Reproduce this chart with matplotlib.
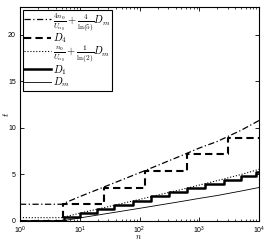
import numpy as np
import matplotlib
matplotlib.use("Agg")
import matplotlib.pyplot as plt

plt.rcParams["font.family"] = "Liberation Sans"
plt.rcParams["mathtext.fontset"] = "cm"

# smooth curves
n_grid = [1, 5, 10, 20, 50, 100, 200, 500, 1000, 2000, 5000, 10000]
dm = [0, 0, 0.33, 0.64, 1.05, 1.36, 1.68, 2.1, 2.43, 2.74, 3.22, 3.6]
bound_1 = [0.36, 0.36, 0.84, 1.28, 1.87, 2.32, 2.78, 3.38, 3.86, 4.34, 5.0, 5.55]
bound_4 = [1.8, 1.8, 2.62, 3.39, 4.41, 5.18, 5.97, 7.02, 7.84, 8.55, 9.75, 10.8]

# step curves
d1_n = [1, 5.5, 10, 19.5, 38, 78, 155, 310, 620, 1240, 2550, 5060, 8800, 10000]
d1_val = [0, 0.44, 0.88, 1.32, 1.76, 2.2, 2.64, 3.08, 3.52, 3.96, 4.4, 4.84, 5.28, 5.28]
d4_n = [1, 5.2, 25, 122, 612, 3050, 10000]
d4_val = [0, 1.8, 3.6, 5.37, 7.15, 8.92, 8.92]

fig = plt.figure(figsize=(2.66, 2.41), dpi=100)
ax = fig.add_axes([0.075, 0.083, 0.899, 0.888])

ax.plot(n_grid, bound_4, color="k", lw=0.9, dashes=(5, 2, 1, 2),
        label=r"$\frac{4n_0}{U_{n_0}}+\frac{4}{\ln(5)}D_m$")
ax.step(d4_n, d4_val, where="post", color="k", lw=1.5, dashes=(3.5, 2),
        label=r"$D_4$")
ax.plot(n_grid, bound_1, color="k", lw=0.8, linestyle=":",
        label=r"$\frac{n_0}{U_{n_0}}+\frac{1}{\ln(2)}D_m$")
ax.step(d1_n, d1_val, where="post", color="k", lw=1.8, label=r"$D_1$")
ax.plot(n_grid, dm, color="k", lw=0.6, label=r"$D_m$")

ax.set_xscale("log")
ax.set_xlim(1, 1e4)
ax.set_ylim(0, 23)
ax.set_yticks([0, 5, 10, 15, 20])
ax.tick_params(which="both", direction="in", top=True, right=True, labelsize=5)
ax.tick_params(which="major", length=3, width=0.6, pad=3)
ax.tick_params(axis="x", which="major", pad=2.5)
ax.tick_params(which="minor", length=1.5, width=0.5)
for s in ax.spines.values():
    s.set_linewidth(0.8)

fig.text(138 / 266, 1 - 240.8 / 241, r"$n$", fontsize=6, ha="center", va="bottom")
fig.text(6 / 266, 1 - 114 / 241, r"$t$", fontsize=7, ha="center", va="center",
         rotation=90)

leg = ax.legend(loc="upper left", fontsize=7.5, fancybox=False, framealpha=1,
                edgecolor="k", borderaxespad=0.25, handlelength=2.6,
                handletextpad=0.2, labelspacing=-0.12, borderpad=0.15)
leg.get_frame().set_linewidth(0.8)

fig.savefig("out.png", dpi=100)
